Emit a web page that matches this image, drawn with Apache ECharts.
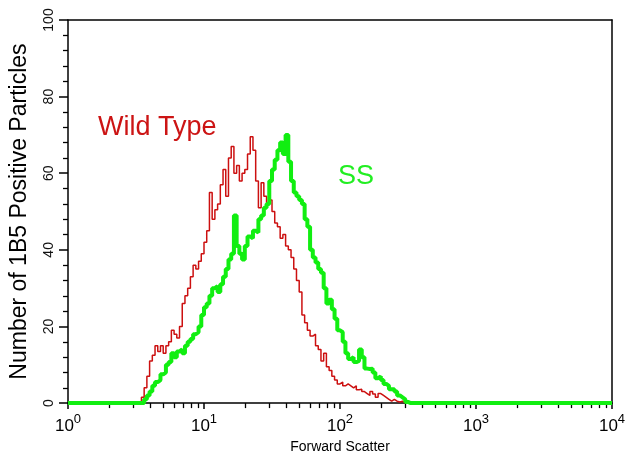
<!DOCTYPE html>
<html><head><meta charset="utf-8">
<script src="https://cdn.jsdelivr.net/npm/echarts@6/dist/echarts.min.js"></script>
<style>html,body{margin:0;padding:0;background:#fff}#c{width:634px;height:459px}</style>
</head><body><div id="c"></div>
<script>
// histogram channels: start (log10 of Forward Scatter) and channel width in log10 units
const channelStartLog = 0.50;
const channelWidthLog = 0.02;

// counts per channel
const wildType = [
  0, 0, 1.5, 4, 7, 11, 12.5, 15, 13.5, 15,
  13, 15, 16, 19, 18, 17, 20, 26, 28, 30,
  33, 36, 35, 37, 39, 42, 45, 55, 48, 50.5,
  52, 57, 61, 54, 64, 67, 60, 62, 58, 60,
  61, 65, 69.5, 66, 58, 51, 57.5, 54, 52, 53,
  50, 47, 46, 43, 44, 41, 40, 38, 35, 32,
  29, 23, 21, 19, 17.5, 18, 15, 14, 11, 13,
  9.5, 8.5, 7, 6, 5, 5.5, 4.5, 5, 4.5, 4,
  4.5, 3.5, 3.6, 3, 2.5, 2, 3, 2.4, 1.5, 2.5,
  2, 1.5, 1, 0.5, 1, 0.5, 0.3, 0.5, 0
];
const ss = [
  0, 0, 0, 1, 2, 3, 4.5, 5.5, 6, 7.5,
  8, 10, 10.7, 13, 12, 13.5, 14, 13, 15, 16,
  16.7, 18, 18.5, 20, 23, 25, 26, 28, 30, 30.5,
  29, 31, 33, 35, 37.5, 39, 49, 41, 39, 37.5,
  41, 43.5, 43, 45, 44.5, 48, 49, 51, 52, 58,
  61, 63.5, 66, 68, 65, 70, 63, 58, 55, 54,
  53, 52, 48, 46, 40, 38, 36.7, 35, 34, 30,
  26, 27, 24.5, 22, 19, 18.5, 16, 13, 11.5, 12,
  10.7, 11, 14, 12, 9, 8.9, 9, 8, 6.5, 7,
  6, 5, 4.5, 3.6, 3.6, 3, 2, 1.5, 1, 0.3,
  0
];
const xTickExponents = [0, 1, 2, 3, 4];
const xMinorMultipliers = [2, 3, 4, 5, 6, 7, 8, 9];
const yTickLabels = [0, 20, 40, 60, 80, 100];
const xRange = [1, 10000];

function toPoints(vals) {
  const pts = [[xRange[0], 0]];
  vals.forEach((v, i) => pts.push([Math.pow(10, channelStartLog + i * channelWidthLog), v]));
  pts.push([Math.pow(10, channelStartLog + vals.length * channelWidthLog), 0]);
  pts.push([xRange[1], 0]);
  return pts;
}
const minorXTicks = [];
xTickExponents.slice(0, -1).forEach(e => xMinorMultipliers.forEach(m => minorXTicks.push(m * Math.pow(10, e))));

const FONT = 'Liberation Sans';
const chart = echarts.init(document.getElementById('c'), null, {renderer: 'canvas'});
const blackLine = {color: '#000', width: 1.5};
chart.setOption({
  animation: false,
  backgroundColor: '#fff',
  textStyle: {fontFamily: FONT},
  grid: {left: 68, right: 22, top: 20, bottom: 55, containLabel: false},
  xAxis: [{
    type: 'log', logBase: 10, min: xRange[0], max: xRange[1],
    axisLine: {onZero: false, lineStyle: blackLine},
    axisTick: {show: true, length: 6, lineStyle: blackLine},
    splitLine: {show: false},
    axisLabel: {
      margin: 10,
      formatter: v => {
        const e = Math.round(Math.log10(v));
        return xTickExponents.indexOf(e) >= 0 ? '{b|10}{s|' + e + '}' : '';
      },
      rich: {
        b: {fontSize: 17, color: '#000', fontFamily: FONT, lineHeight: 22, verticalAlign: 'bottom'},
        s: {fontSize: 13, color: '#000', fontFamily: FONT, lineHeight: 13, verticalAlign: 'top'}
      }
    },
    name: 'Forward Scatter', nameLocation: 'middle', nameGap: 32,
    nameTextStyle: {fontSize: 14, color: '#000', fontFamily: FONT}
  }, {
    type: 'log', logBase: 10, min: xRange[0], max: xRange[1], position: 'bottom',
    axisLine: {show: false, onZero: false},
    axisTick: {show: true, length: 5, customValues: minorXTicks, lineStyle: {color: '#000', width: 1.3}},
    axisLabel: {show: false}, splitLine: {show: false}
  }, {
    type: 'log', logBase: 10, min: xRange[0], max: xRange[1], position: 'top',
    axisLine: {show: true, onZero: false, lineStyle: blackLine},
    axisTick: {show: false}, axisLabel: {show: false}, splitLine: {show: false}
  }],
  yAxis: [{
    type: 'value', min: yTickLabels[0], max: yTickLabels[yTickLabels.length - 1], interval: 20,
    axisLine: {show: true, onZero: false, lineStyle: blackLine},
    axisTick: {show: true, length: 9, lineStyle: blackLine},
    minorTick: {show: true, splitNumber: 5, length: 5, lineStyle: {color: '#000', width: 1.3}},
    splitLine: {show: false},
    axisLabel: {rotate: 90, fontSize: 14, color: '#111', margin: 12, fontFamily: FONT},
    name: 'Number of 1B5 Positive Particles', nameLocation: 'middle', nameGap: 37, nameRotate: 90,
    nameTextStyle: {fontSize: 23, color: '#000', fontFamily: FONT}
  }, {
    type: 'value', min: 0, max: 100, position: 'right',
    axisLine: {show: true, onZero: false, lineStyle: blackLine},
    axisTick: {show: false}, axisLabel: {show: false}, splitLine: {show: false}
  }],
  graphic: [
    {type: 'text', left: 98, top: 114, style: {text: 'Wild Type', fontSize: 27, fill: '#cc1414', fontFamily: FONT}},
    {type: 'text', left: 338, top: 163, style: {text: 'SS', fontSize: 27, fill: '#22ee22', fontFamily: FONT}}
  ],
  series: [{
    name: 'Wild Type', type: 'line', step: 'end', symbol: 'none',
    data: toPoints(wildType),
    lineStyle: {color: '#cc1010', width: 1.5}
  }, {
    name: 'SS', type: 'line', step: 'end', symbol: 'none',
    data: toPoints(ss),
    lineStyle: {color: '#11ee11', width: 4}
  }]
});
</script>
</body></html>
